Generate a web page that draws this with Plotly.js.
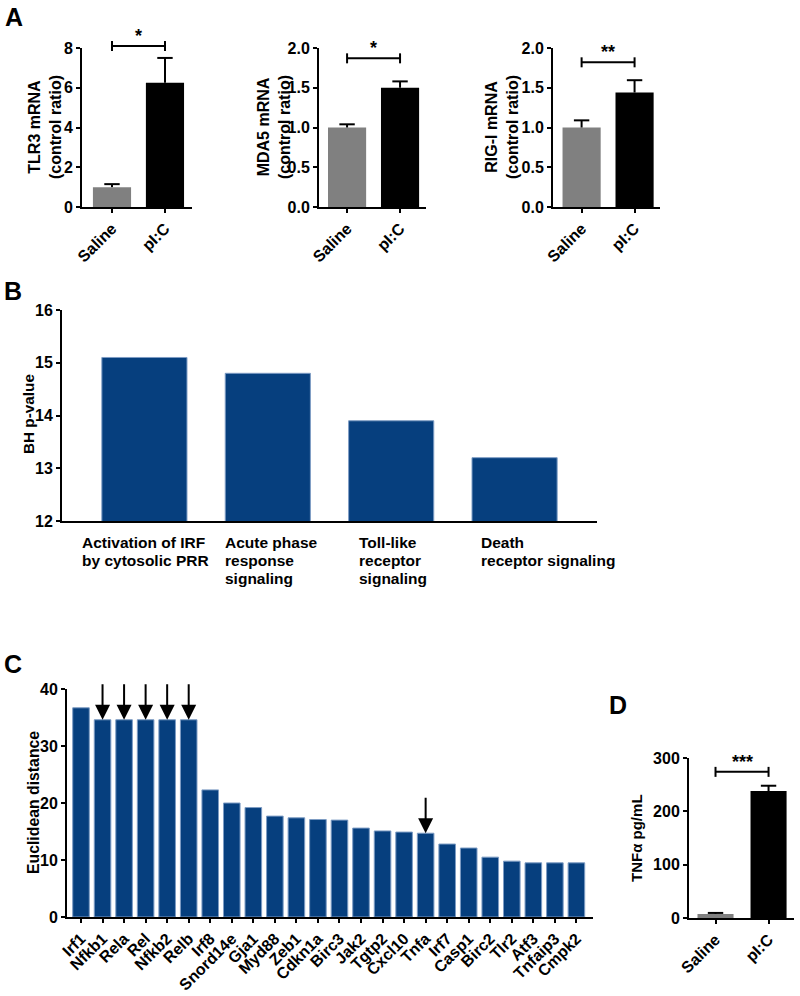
<!DOCTYPE html>
<html>
<head>
<meta charset="utf-8">
<script src="https://cdn.plot.ly/plotly-3.0.1.min.js"></script>
<style>html,body{margin:0;padding:0;background:#fff;}#chart{width:800px;height:996px;}</style>
</head>
<body>
<div id="chart"></div>
<script>
// ---------- DATA ----------
const groups = ['Saline', 'pI:C'];
const tlr3 = [1.0, 6.25];
const tlr3Err = [0.15, 1.25];
const mda5 = [1.0, 1.5];
const mda5Err = [0.04, 0.08];
const rigi = [1.0, 1.44];
const rigiErr = [0.09, 0.155];
const sigA = ['*', '*', '**'];

const pathways = ['Activation of IRF<br>by cytosolic PRR', 'Acute phase<br>response<br>signaling', 'Toll-like<br>receptor<br>signaling', 'Death<br>receptor signaling'];
const bhValues = [15.1, 14.8, 13.9, 13.2];

const genes = ['Irf1','Nfkb1','Rela','Rel','Nfkb2','Relb','Irf8','Snord14e','Gja1','Myd88','Zeb1','Cdkn1a','Birc3','Jak2','Tgtp2','Cxcl10','Tnfa','Irf7','Casp1','Birc2','Tlr2','Atf3','Tnfaip3','Cmpk2'];
const distances = [36.7,34.6,34.6,34.6,34.6,34.6,22.3,20.0,19.2,17.7,17.4,17.1,17.0,15.6,15.1,14.9,14.7,12.8,12.1,10.5,9.8,9.5,9.5,9.5];
const arrowGenes = ['Nfkb1','Rela','Rel','Nfkb2','Relb','Tnfa'];

const tnfa = [7.5, 238];
const tnfaErr = [2, 10];
const sigD = '***';

// ---------- STYLE ----------
const W = 800, H = 996;
const FONT = 'Arial, "Liberation Sans", sans-serif';
const BLUE = '#063f7e';
const GRAY = '#808080';
const dx = (a, b) => [a / W, b / W];
const dy = (top, bot) => [1 - bot / H, 1 - top / H];
const tf = (s) => ({family: FONT, size: s, weight: 'bold', color: '#000'});

function axis(extra) {
  return Object.assign({
    showline: true, linecolor: '#000', linewidth: 2,
    ticks: 'outside', ticklen: 4, tickwidth: 2, tickcolor: '#000',
    showgrid: false, zeroline: false, fixedrange: true,
    tickfont: tf(16)
  }, extra);
}

const ranges = {
  x: [-0.566, 1.51], y: [0, 8],
  x2: [-0.53, 1.49], y2: [0, 2],
  x3: [-0.54, 1.48], y3: [0, 2],
  x6: [-0.5, 1.48], y6: [0, 300]
};
const frac = (r, v) => (v - r[0]) / (r[1] - r[0]);

const traces = [];
const shapes = [];
const annotations = [];

function groupBars(xa, ya, vals, errs, w) {
  traces.push({
    type: 'bar', x: groups, y: vals, xaxis: xa, yaxis: ya, width: w,
    marker: {color: [GRAY, '#000'], line: {width: 0}}, hoverinfo: 'skip'
  });
  // one-sided error bars: stem down to bar top, cap only at the top
  traces.push({
    type: 'scatter', mode: 'markers', x: groups, y: vals.map((v, i) => v + errs[i]),
    xaxis: xa, yaxis: ya, hoverinfo: 'skip',
    marker: {symbol: 'line-ew-open', size: 11, color: '#000', line: {color: '#000', width: 2}},
    error_y: {type: 'data', symmetric: false, array: errs.map(() => 0), arrayminus: errs,
      color: '#000', thickness: 2, width: 0}
  });
}
function bracket(xa, ya, yv, star) {
  const rx = ranges[xa], ry = ranges[ya];
  const xr = xa + ' domain', yr = ya + ' domain';
  const x0 = frac(rx, 0), x1 = frac(rx, 1), yy = frac(ry, yv);
  shapes.push({type: 'line', xref: xr, yref: yr, x0: x0, x1: x1, y0: yy, y1: yy, line: {color: '#000', width: 2}});
  [x0, x1].forEach(xv => shapes.push({type: 'line', xref: xr, yref: yr, x0: xv, x1: xv,
    ysizemode: 'pixel', yanchor: yy, y0: -5, y1: 5, line: {color: '#000', width: 2}}));
  annotations.push({xref: xr, yref: yr, x: (x0 + x1) / 2, y: yy, text: star, showarrow: false,
    yanchor: 'bottom', yshift: -2, font: tf(18)});
}

// Panel A
groupBars('x', 'y', tlr3, tlr3Err, 0.72);
groupBars('x2', 'y2', mda5, mda5Err, 0.72);
groupBars('x3', 'y3', rigi, rigiErr, 0.72);
bracket('x', 'y', 8.1, sigA[0]);
bracket('x2', 'y2', 1.87, sigA[1]);
bracket('x3', 'y3', 1.82, sigA[2]);

// Panel B
traces.push({type: 'bar', x: pathways, y: bhValues, xaxis: 'x4', yaxis: 'y4', width: 0.69,
  marker: {color: BLUE, line: {color: '#7d9cc4', width: 1}}, hoverinfo: 'skip'});
const labelShift = [-64, -45, -34, -36];
const labelLineGap = 18;
pathways.forEach((p, i) => p.split('<br>').forEach((line, k) => annotations.push({
  xref: 'x4', yref: 'paper', x: p, y: 1 - 542 / H, xanchor: 'left', yanchor: 'middle', align: 'left',
  xshift: labelShift[i], yshift: -k * labelLineGap, text: line, showarrow: false, font: tf(15.5)})));

// Panel C
traces.push({type: 'bar', x: genes, y: distances, xaxis: 'x5', yaxis: 'y5', width: 0.77,
  marker: {color: BLUE, line: {color: '#7d9cc4', width: 1}}, hoverinfo: 'skip'});
arrowGenes.forEach(g => {
  const i = genes.indexOf(g);
  annotations.push({xref: 'x5', yref: 'y5', x: g, y: distances[i], ax: 0, ay: -37, text: '',
    showarrow: true, arrowhead: 2, arrowsize: 1.5, arrowwidth: 2, arrowcolor: '#000', standoff: 0});
});

// Panel D
groupBars('x6', 'y6', tnfa, tnfaErr, 0.68);
bracket('x6', 'y6', 274, sigD);

// y titles
function ytitle(text, xc, yc, size) {
  annotations.push({xref: 'paper', yref: 'paper', x: xc / W, y: 1 - yc / H, text: text, textangle: -90,
    xanchor: 'center', yanchor: 'middle', showarrow: false, font: tf(size)});
}
ytitle('TLR3 mRNA<br>(control ratio)', 45, 127, 16);
ytitle('MDA5 mRNA<br>(control ratio)', 274, 127, 16);
ytitle('RIG-I mRNA<br>(control ratio)', 502, 127, 16);
ytitle('BH p-value', 28, 414, 15.3);
ytitle('Euclidean distance', 33, 803, 15.8);
ytitle('TNFα pg/mL', 636, 838, 15);

// panel letters
[['A', 14, 17], ['B', 13, 291], ['C', 12.5, 664], ['D', 617.5, 705]].forEach(([t, xc, yc]) =>
  annotations.push({xref: 'paper', yref: 'paper', x: xc / W, y: 1 - yc / H, text: t, showarrow: false,
    xanchor: 'center', yanchor: 'middle', font: tf(25)}));

const layout = {
  width: W, height: H, margin: {l: 0, r: 0, t: 0, b: 0},
  paper_bgcolor: '#fff', plot_bgcolor: 'rgba(0,0,0,0)', showlegend: false,
  font: {family: FONT, color: '#000'},
  xaxis: axis({domain: dx(82, 192), anchor: 'y', type: 'category', range: ranges.x, tickangle: -45}),
  yaxis: axis({domain: dy(48, 207), anchor: 'x', range: ranges.y, tickvals: [0, 2, 4, 6, 8]}),
  xaxis2: axis({domain: dx(319, 426), anchor: 'y2', type: 'category', range: ranges.x2, tickangle: -45}),
  yaxis2: axis({domain: dy(48, 207), anchor: 'x2', range: ranges.y2, tickvals: [0, 0.5, 1, 1.5, 2], tickformat: '.1f'}),
  xaxis3: axis({domain: dx(553, 660), anchor: 'y3', type: 'category', range: ranges.x3, tickangle: -45}),
  yaxis3: axis({domain: dy(48, 207), anchor: 'x3', range: ranges.y3, tickvals: [0, 0.5, 1, 1.5, 2], tickformat: '.1f'}),
  xaxis4: axis({domain: dx(62, 597), anchor: 'y4', type: 'category', range: [-0.668, 3.668], ticks: '', showticklabels: false}),
  yaxis4: axis({domain: dy(310, 521), anchor: 'x4', range: [12, 16], tickvals: [12, 13, 14, 15, 16]}),
  xaxis5: axis({domain: dx(67, 593), anchor: 'y5', type: 'category', range: [-0.65, 23.77], tickangle: -45}),
  yaxis5: axis({domain: dy(689, 917), anchor: 'x5', range: [0, 40], tickvals: [0, 10, 20, 30, 40]}),
  xaxis6: axis({domain: dx(689, 794), anchor: 'y6', type: 'category', range: ranges.x6, tickangle: -45}),
  yaxis6: axis({domain: dy(758, 918), anchor: 'x6', range: ranges.y6, tickvals: [0, 100, 200, 300]}),
  shapes: shapes,
  annotations: annotations
};

Plotly.newPlot('chart', traces, layout, {staticPlot: true, displayModeBar: false});
</script>
</body>
</html>
